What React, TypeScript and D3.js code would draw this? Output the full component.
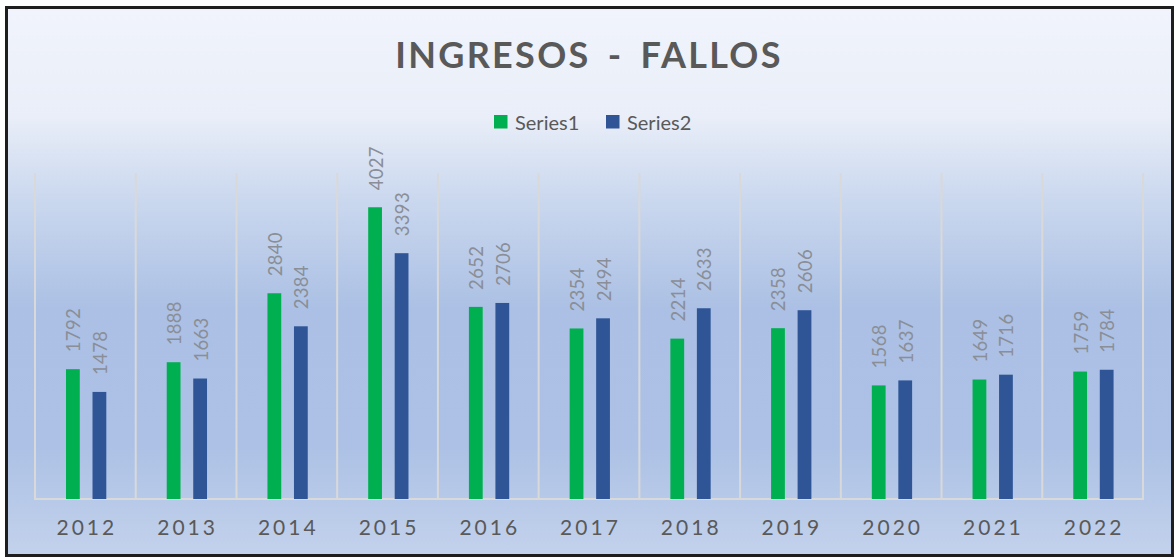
import { scaleBand, scaleLinear } from 'd3'

const years = ['2012', '2013', '2014', '2015', '2016', '2017', '2018', '2019', '2020', '2021', '2022']
const series1 = [1792, 1888, 2840, 4027, 2652, 2354, 2214, 2358, 1568, 1649, 1759]
const series2 = [1478, 1663, 2384, 3393, 2706, 2494, 2633, 2606, 1637, 1716, 1784]
const seriesNames = ['Series1', 'Series2']
const title = 'INGRESOS - FALLOS'

const width = 1175
const height = 557
const plot = { left: 35, right: 1143, top: 173, bottom: 499 }
const colors = ['#00b050', '#2f5597']
const font = 'Lato, Calibri, "Open Sans", sans-serif'

const App = () => {
  const x0 = scaleBand<string>().domain(years).range([plot.left, plot.right]).padding(0)
  const x1 = scaleBand<string>().domain(seriesNames).range([31, 71.3]).paddingInner(0.48)
  const y = scaleLinear().domain([0, 4500]).range([plot.bottom, plot.top])

  const gridXs = [...years.map((d) => x0(d) ?? 0), plot.right]
  const seriesValues = [series1, series2]

  return (
    <div style={{ position: 'absolute', left: 0, top: 0 }}>
      <svg width={width} height={height} style={{ display: 'block' }}>
        <defs>
          <linearGradient id="bg" x1="0" x2="0" y1="0" y2="1">
            <stop offset="0%" stopColor="#f1f4fc" />
            <stop offset="20%" stopColor="#e9eef8" />
            <stop offset="34%" stopColor="#ccd9ef" />
            <stop offset="55%" stopColor="#abc0e4" />
            <stop offset="80%" stopColor="#acc1e5" />
            <stop offset="100%" stopColor="#c3d2ec" />
          </linearGradient>
        </defs>
        <rect x={6.5} y={7.5} width={1166} height={548} fill="url(#bg)" stroke="#1e1e1e" strokeWidth={3} />

        <text
          x={589}
          y={68}
          textAnchor="middle"
          fontFamily={font}
          fontWeight={700}
          fontSize={36}
          letterSpacing={2.3}
          wordSpacing={6}
          fill="#595959"
        >
          {title}
        </text>

        {seriesNames.map((name, i) => {
          const lx = i === 0 ? 494 : 606
          return (
            <g key={name} transform={`translate(${lx}, 115)`}>
              <rect width={13.5} height={13.5} fill={colors[i]} />
              <text x={21} y={14.5} fontFamily={font} fontSize={20} fill="#595959">
                {name}
              </text>
            </g>
          )
        })}

        {gridXs.map((gx, i) => (
          <line key={i} x1={gx} x2={gx} y1={plot.top} y2={plot.bottom} stroke="#d9d9d9" strokeWidth={2} />
        ))}
        <line x1={plot.left - 1} x2={plot.right + 1} y1={plot.bottom} y2={plot.bottom} stroke="#d9d9d9" strokeWidth={2} />

        {years.map((year, yi) => (
          <g key={year} transform={`translate(${x0(year) ?? 0}, 0)`}>
            {seriesNames.map((name, si) => {
              const v = seriesValues[si][yi]
              const bx = x1(name) ?? 0
              const bw = x1.bandwidth()
              const top = y(v)
              return (
                <g key={name}>
                  <rect x={bx} y={top} width={bw} height={plot.bottom - top} fill={colors[si]} />
                  <text
                    transform={`translate(${bx + bw / 2 + 7.5}, ${top - 17}) rotate(-90)`}
                    fontFamily={font}
                    fontSize={18.5}
                    letterSpacing={0.3}
                    fill="#8a8e96"
                  >
                    {v}
                  </text>
                </g>
              )
            })}
            <text
              x={x0.bandwidth() / 2 + 1.5}
              y={535}
              textAnchor="middle"
              fontFamily={font}
              fontSize={21}
              letterSpacing={3}
              fill="#595959"
            >
              {year}
            </text>
          </g>
        ))}
      </svg>
    </div>
  )
}

export default App
